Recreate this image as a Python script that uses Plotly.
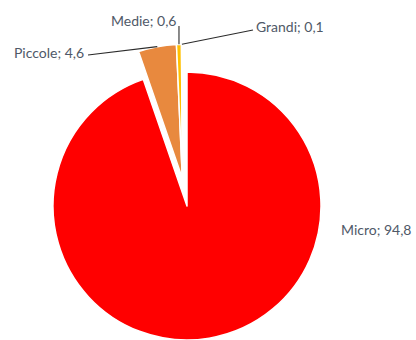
import math
import plotly.graph_objects as go

# Quota di imprese per classe dimensionale (%)
categories = ["Micro", "Piccole", "Medie", "Grandi"]
shares = [94.8, 4.6, 0.6, 0.1]
colors = ["#FF0000", "#E8893E", "#FFC000", "#FFE08A"]
exploded = [False, True, True, True]

W, H = 416, 340
CX, CY, R = 187, 206, 134      # pie centre and radius in pixels
PULL = 0.21                    # explosion distance as a fraction of the radius
TEXT_COLOR = "#4f5968"
LINE_COLOR = "#2b2b2b"

total = sum(shares)
bounds = []
acc = 0.0
for v in shares:
    bounds.append((acc / total, (acc + v) / total))
    acc += v


def polar(cx, cy, frac, rad):
    ang = 2 * math.pi * frac
    return cx + rad * math.sin(ang), cy - rad * math.cos(ang)


def px_to_paper(x, y):
    return x / W, 1 - y / H


def domain(cx, cy, r):
    x0, x1 = (cx - r) / W, (cx + r) / W
    y0, y1 = 1 - (cy + r) / H, 1 - (cy - r) / H
    clamp = lambda t: min(1.0, max(0.0, round(t, 6)))
    return dict(x=[clamp(x0), clamp(x1)], y=[clamp(y0), clamp(y1)])


# the exploded wedges move together along the mid-angle of their group
g0 = min(b[0] for b, e in zip(bounds, exploded) if e)
g1 = max(b[1] for b, e in zip(bounds, exploded) if e)
ox, oy = polar(0, 0, (g0 + g1) / 2, PULL * R)
ECX, ECY = CX + ox, CY + oy


def wedge_trace(show, cx, cy):
    return go.Pie(
        labels=categories,
        values=shares,
        sort=False,
        direction="clockwise",
        rotation=0,
        marker=dict(
            colors=[c if s else "rgba(0,0,0,0)" for c, s in zip(colors, show)],
            line=dict(color=["#FFFFFF" if s else "rgba(0,0,0,0)" for s in show], width=1.5),
        ),
        textinfo="none",
        hoverinfo="skip",
        showlegend=False,
        domain=domain(cx, cy, R),
    )


fig = go.Figure()
fig.add_trace(wedge_trace([not e for e in exploded], CX, CY))
fig.add_trace(wedge_trace(exploded, ECX, ECY))

# label anchors (pixels) and where each leader line starts
label_pos = {
    "Micro": (339, 229, "left"),
    "Piccole": (86, 52, "right"),
    "Medie": (178, 20, "right"),
    "Grandi": (254, 27, "left"),
}
leader_start = {"Piccole": (88, 55), "Medie": (None, 26), "Grandi": (253, 30)}

annotations = []
shapes = []
for i, (cat, val) in enumerate(zip(categories, shares)):
    lx, ly, anchor = label_pos[cat]
    px, py = px_to_paper(lx, ly)
    annotations.append(dict(
        x=px, y=py, xref="paper", yref="paper", xanchor=anchor, yanchor="middle",
        text=f"{cat}; {val:.1f}".replace(".", ","), showarrow=False,
        font=dict(family="Lato", size=14, color=TEXT_COLOR),
    ))
    if cat in leader_start:
        cx, cy = (ECX, ECY) if exploded[i] else (CX, CY)
        ex, ey = polar(cx, cy, (bounds[i][0] + bounds[i][1]) / 2, R)
        sx, sy = leader_start[cat]
        if sx is None:
            sx = ex
        x0, y0 = px_to_paper(sx, sy)
        x1, y1 = px_to_paper(ex, ey)
        shapes.append(dict(type="line", xref="paper", yref="paper", x0=x0, y0=y0, x1=x1, y1=y1,
                           line=dict(color=LINE_COLOR, width=1.1)))

fig.update_layout(
    width=W, height=H,
    margin=dict(l=0, r=0, t=0, b=0),
    paper_bgcolor="#FFFFFF",
    plot_bgcolor="#FFFFFF",
    annotations=annotations,
    shapes=shapes,
)

fig.write_html("out.html")
